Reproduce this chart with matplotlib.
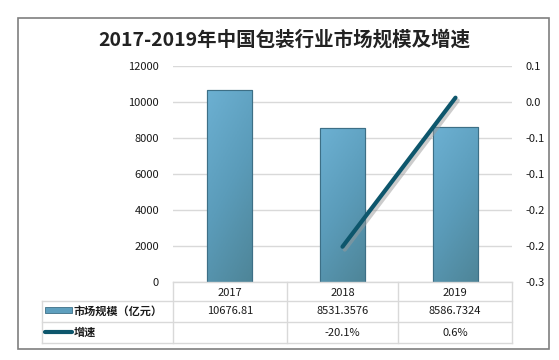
import matplotlib
matplotlib.use("Agg")
import matplotlib.pyplot as plt
import numpy as np
from matplotlib.patches import Rectangle
from matplotlib.colors import LinearSegmentedColormap

plt.rcParams['font.family'] = ['Noto Sans CJK SC', 'DejaVu Sans']

years = ['2017', '2018', '2019']
market = [10676.81, 8531.3576, 8586.7324]
market_txt = ['10676.81', '8531.3576', '8586.7324']
growth = [None, -0.201, 0.006]
growth_txt = ['', '-20.1%', '0.6%']
left_ticks = [0, 2000, 4000, 6000, 8000, 10000, 12000]
right_ticks = [-0.25, -0.2, -0.15, -0.1, -0.05, 0.0, 0.05]
right_labels = ['-0.3', '-0.2', '-0.2', '-0.1', '-0.1', '0.0', '0.1']

W, H = 559, 360
fig = plt.figure(figsize=(W / 100, H / 100), dpi=100)

def fx(x):
    return x / W

def fy(y):
    return 1 - y / H

# outer frame
fig.patches.append(Rectangle((fx(18), fy(349)), fx(549 - 18), (349 - 18) / H,
                             transform=fig.transFigure, fill=False,
                             edgecolor='#7f7f7f', linewidth=1.2))

fig.text(fx(284), fy(40), '2017-2019年中国包装行业市场规模及增速',
         ha='center', va='center', fontsize=14, fontweight='bold', color='#222222')

# main plot
x0, x1, ytop, ybot = 173, 512, 66, 282
ax = fig.add_axes([fx(x0), fy(ybot), fx(x1 - x0), (ybot - ytop) / H])
ax.set_xlim(-0.5, 2.5)
ax.set_ylim(0, 12000)
ax.set_yticks(left_ticks)
ax.yaxis.grid(True, color='#d9d9d9', linewidth=1)
ax.set_axisbelow(True)
for s in ax.spines.values():
    s.set_visible(False)
ax.tick_params(axis='y', length=0, labelsize=8, pad=10, labelcolor='#1a1a1a')
ax.set_xticks([])

xs = np.arange(len(years))
bars = ax.bar(xs, market, width=0.4, color='#5e9fbe', edgecolor='#3d6f86',
              linewidth=0.8, zorder=2)
cmap = LinearSegmentedColormap.from_list('b', ['#6cb0d2', '#5b9cba', '#4e8598'])
gx, gy = np.meshgrid(np.linspace(0, 1, 20), np.linspace(0, 1, 60))
grad = 0.7 * gy + 0.3 * gx
for b in bars:
    im = ax.imshow(grad, cmap=cmap, aspect='auto', zorder=2.5,
                   extent=[b.get_x(), b.get_x() + b.get_width(), 0, b.get_height()],
                   origin='upper')
    im.set_clip_path(b)
    ax.add_patch(Rectangle((b.get_x(), 0), b.get_width(), b.get_height(), fill=False,
                           edgecolor='#3d6f86', linewidth=0.8, zorder=3))
ax.set_xlim(-0.5, 2.5)
ax.set_ylim(0, 12000)

ax2 = ax.twinx()
ax2.set_ylim(-0.25, 0.05)
ax2.set_yticks(right_ticks)
ax2.set_yticklabels(right_labels)
for s in ax2.spines.values():
    s.set_visible(False)
ax2.tick_params(axis='y', length=0, labelsize=8, pad=10, labelcolor='#1a1a1a')
gxs = [i for i, g in enumerate(growth) if g is not None]
gys = [g for g in growth if g is not None]
ax2.plot([g + 0.02 for g in gxs], [g - 0.004 for g in gys], color='#9a9a9a',
         linewidth=3, alpha=0.5, solid_capstyle='round', zorder=3)
ax2.plot(gxs, gys, color='#0d566c', linewidth=3, solid_capstyle='round', zorder=4)

# data table
tb = fig.add_axes([0, 0, 1, 1])
tb.set_xlim(0, W)
tb.set_ylim(H, 0)
tb.axis('off')
gc = '#d9d9d9'
cols = [173, 287, 398, 512]
rows = [282, 301, 322, 343]
tb.plot([cols[0], cols[-1]], [rows[0], rows[0]], color=gc, lw=1)
for r in rows[1:]:
    tb.plot([42, cols[-1]], [r, r], color=gc, lw=1)
for c in cols:
    tb.plot([c, c], [rows[0], rows[-1]], color=gc, lw=1)
tb.plot([42, 42], [rows[1], rows[-1]], color=gc, lw=1)

for i in range(len(years)):
    cx = (cols[i] + cols[i + 1]) / 2
    tb.text(cx, (rows[0] + rows[1]) / 2 + 1, years[i], ha='center', va='center',
            fontsize=8, color='#1a1a1a')
    tb.text(cx, (rows[1] + rows[2]) / 2, market_txt[i], ha='center', va='center',
            fontsize=8, color='#1a1a1a')
    tb.text(cx, (rows[2] + rows[3]) / 2, growth_txt[i], ha='center', va='center',
            fontsize=8, color='#1a1a1a')

tb.add_patch(Rectangle((45, 307), 27, 6, facecolor='#5e9fbe', edgecolor='#3d6f86', lw=0.6))
tb.plot([45, 72], [331.5, 331.5], color='#0d566c', lw=3, solid_capstyle='round')
tb.text(74, 311, '市场规模（亿元）', ha='left', va='center', fontsize=8,
        fontweight='bold', color='#1a1a1a')
tb.text(74, 332, '增速', ha='left', va='center', fontsize=8,
        fontweight='bold', color='#1a1a1a')

fig.savefig('out.png', dpi=100)
